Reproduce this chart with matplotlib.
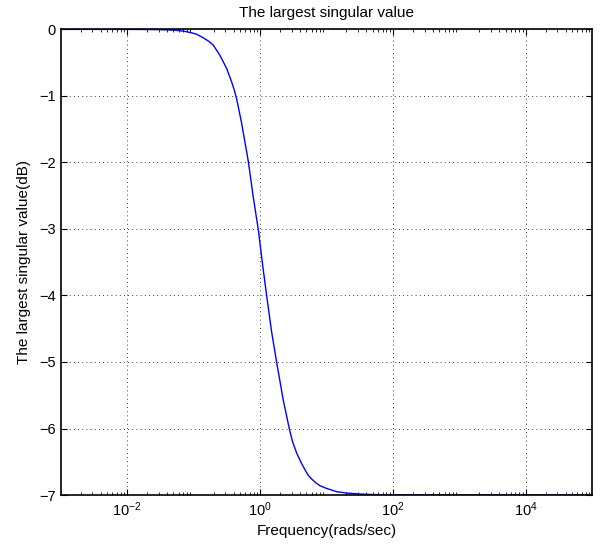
import matplotlib
matplotlib.use("Agg")
import matplotlib.pyplot as plt
import matplotlib.ticker as mtick

plt.rcParams['font.family'] = ['Liberation Sans', 'DejaVu Sans']

# values (frequency in rad/s, gain in dB)
freq = [1e-3, 1e-2, 0.03, 0.044, 0.06, 0.079, 0.11, 0.14, 0.17, 0.198, 0.25,
        0.316, 0.375, 0.41, 0.447, 0.53, 0.667, 0.79, 0.944, 1.1, 1.26,
        1.5, 1.78, 2.24, 2.76, 3.1, 3.57, 4.2, 4.76, 5.3, 6.0, 7.0, 8.0, 10.0,
        14.3, 20.0, 32.0, 50.0, 100.0, 1e3, 1e4, 1e5]
sv_db = [0.0, 0.0, -0.004, -0.01, -0.018, -0.035, -0.07, -0.126, -0.18, -0.236, -0.39,
         -0.59, -0.79, -0.91, -1.05, -1.41, -1.98, -2.51, -3.01, -3.55, -4.0,
         -4.55, -5.0, -5.57, -6.0, -6.2, -6.37, -6.52, -6.62, -6.7, -6.76, -6.82,
         -6.86, -6.9, -6.95, -6.97, -6.985, -6.993, -6.998, -7.0, -7.0, -7.0]

fig = plt.figure(figsize=(6.0, 5.44), dpi=100)
ax = fig.add_axes([0.101, 0.090, 0.886, 0.856])
ax.semilogx(freq, sv_db, color='#0000ff', lw=1.0)

ax.set_xlim(1e-3, 1e5)
ax.set_ylim(-7, 0)
ax.set_xticks([1e-2, 1, 1e2, 1e4])
ax.xaxis.set_minor_locator(mtick.LogLocator(base=10, subs=range(2, 10), numticks=20))
ax.xaxis.set_minor_formatter(mtick.NullFormatter())
ax.set_yticks(range(-7, 1))
ax.set_yticklabels(['\u22127', '\u22126', '\u22125', '\u22124', '\u22123', '\u22122', '\u22121', '0'])

ax.grid(True, which='major', linestyle=(0, (1, 4)), color='black', lw=0.6)
ax.tick_params(which='both', direction='in', top=True, right=True, labelsize=10.5)
ax.tick_params(which='major', length=4)
ax.tick_params(which='minor', length=2)
for s in ax.spines.values():
    s.set_linewidth(1.2)

ax.set_xlabel('Frequency(rads/sec)', fontsize=11, labelpad=4)
ax.set_ylabel('The largest singular value(dB)', fontsize=11, labelpad=6)
ax.set_title('The largest singular value', fontsize=11, pad=9)

fig.savefig('out.png', dpi=100)
